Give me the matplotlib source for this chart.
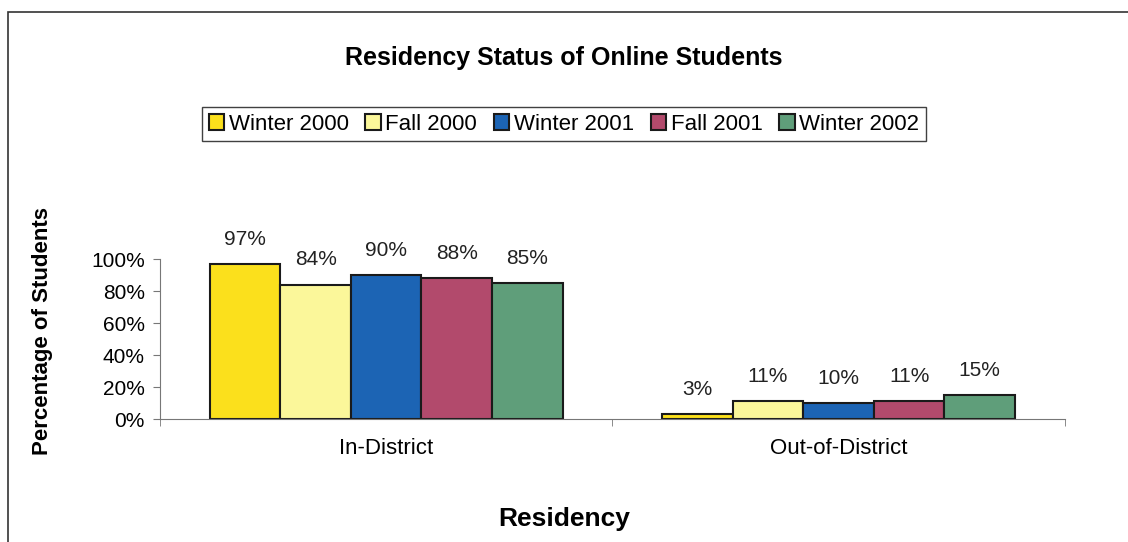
import matplotlib.pyplot as plt
import matplotlib.patches as mpatches
from matplotlib.ticker import PercentFormatter, FixedLocator
import numpy as np

plt.rcParams['font.family'] = ['Liberation Sans', 'DejaVu Sans']

# 数据
categories = ["In-District", "Out-of-District"]
terms = ["Winter 2000", "Fall 2000", "Winter 2001", "Fall 2001", "Winter 2002"]
winter_2000 = [97, 3]
fall_2000 = [84, 11]
winter_2001 = [90, 10]
fall_2001 = [88, 11]
winter_2002 = [85, 15]
series = [winter_2000, fall_2000, winter_2001, fall_2001, winter_2002]
colors = ["#FBE01C", "#FBF79A", "#1C64B4", "#B24A6C", "#5F9E7A"]

fig = plt.figure(figsize=(11.28, 5.42), dpi=100)
ax = fig.add_axes([0.1418, 0.2269, 0.8022, 0.2952])

x = np.arange(len(categories))
bar_w = 0.156
for i, (vals, col, name) in enumerate(zip(series, colors, terms)):
    pos = x + (i - 2) * bar_w
    bars = ax.bar(pos, vals, width=bar_w, color=col, edgecolor="#1a1a1a",
                  linewidth=1.5, label=name)
    for b, v in zip(bars, vals):
        ax.annotate(f"{v}%", (b.get_x() + b.get_width() / 2, v),
                    xytext=(0, 11), textcoords="offset points",
                    ha="center", va="bottom", fontsize=15, color="#222222",
                    annotation_clip=False)

ax.set_xlim(-0.5, 1.5)
ax.set_ylim(0, 100)
ax.yaxis.set_major_locator(FixedLocator([0, 20, 40, 60, 80, 100]))
ax.yaxis.set_major_formatter(PercentFormatter(decimals=0))
ax.set_xticks(x)
ax.set_xticklabels(categories, fontsize=16)
ax.xaxis.set_minor_locator(FixedLocator([-0.5, 0.5, 1.5]))
ax.tick_params(axis="x", which="major", length=0, pad=14)
ax.tick_params(axis="x", which="minor", length=5, color="#777777")
ax.tick_params(axis="y", length=5, color="#777777", labelsize=15, pad=6)

for s in ["top", "right"]:
    ax.spines[s].set_visible(False)
ax.spines["left"].set_color("#777777")
ax.spines["bottom"].set_color("#777777")

ax.set_ylabel("Percentage of Students", fontsize=16, fontweight="bold")
ax.yaxis.set_label_coords(-0.118, 0.55)
fig.text(0.5, 0.042, "Residency", ha="center", va="center", fontsize=19, fontweight="bold")
fig.text(0.5, 0.893, "Residency Status of Online Students", ha="center", va="center",
         fontsize=18, fontweight="bold")

leg = fig.legend(loc="center", bbox_to_anchor=(0.5, 0.771), ncol=5, fontsize=16,
                 frameon=True, fancybox=False, edgecolor="#111111",
                 handlelength=0.7, handleheight=0.7, handletextpad=0.2,
                 columnspacing=0.75, borderpad=0.3, borderaxespad=0)
leg.get_frame().set_linewidth(1.0)

# 外框
fig.add_artist(mpatches.Rectangle((0.007, -0.1), 1.2, 1.078, transform=fig.transFigure,
                                  fill=False, edgecolor="#333333", linewidth=1.2))

plt.savefig("out.png", dpi=100)
